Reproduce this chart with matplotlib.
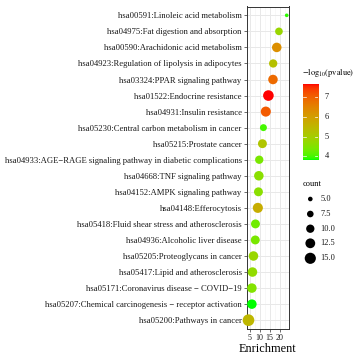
import numpy as np
import matplotlib
matplotlib.use("Agg")
import matplotlib.pyplot as plt
from matplotlib.colors import ListedColormap, Normalize

plt.rcParams['font.family'] = ['Liberation Serif', 'DejaVu Serif']
plt.rcParams['mathtext.fontset'] = 'stix'

# ---------------- data (top to bottom) ----------------
pathways = [
    "hsa00591:Linoleic acid metabolism",
    "hsa04975:Fat digestion and absorption",
    "hsa00590:Arachidonic acid metabolism",
    "hsa04923:Regulation of lipolysis in adipocytes",
    "hsa03324:PPAR signaling pathway",
    "hsa01522:Endocrine resistance",
    "hsa04931:Insulin resistance",
    "hsa05230:Central carbon metabolism in cancer",
    "hsa05215:Prostate cancer",
    "hsa04933:AGE\u2212RAGE signaling pathway in diabetic complications",
    "hsa04668:TNF signaling pathway",
    "hsa04152:AMPK signaling pathway",
    "hsa04148:Efferocytosis",
    "hsa05418:Fluid shear stress and atherosclerosis",
    "hsa04936:Alcoholic liver disease",
    "hsa05205:Proteoglycans in cancer",
    "hsa05417:Lipid and atherosclerosis",
    "hsa05171:Coronavirus disease \u2212 COVID\u221219",
    "hsa05207:Chemical carcinogenesis \u2212 receptor activation",
    "hsa05200:Pathways in cancer",
]
enrichment = [23.6, 19.7, 18.6, 16.8, 16.7, 14.4, 13.1, 11.9, 11.4, 9.8,
              9.6, 9.4, 9.1, 7.9, 7.8, 6.9, 6.4, 6.1, 6.1, 4.4]
count = [4, 9, 12, 10, 12, 14, 13, 8, 11, 10,
         12, 11, 13, 11, 11, 12, 12, 12, 12, 16]
neglog_p = [3.9, 4.8, 6.3, 5.3, 6.9, 7.67, 7.1, 4.0, 5.2, 4.4,
            4.6, 4.6, 5.7, 4.3, 4.4, 4.8, 4.7, 4.5, 3.82, 5.5]
size_breaks = [5.0, 7.5, 10.0, 12.5, 15.0]
color_breaks = [4, 5, 6, 7]


# ---------------- Lab gradient green -> red (like ggplot) ----------------
def srgb_to_lab(rgb):
    c = np.asarray(rgb, dtype=float)
    lin = np.where(c <= 0.04045, c / 12.92, ((c + 0.055) / 1.055) ** 2.4)
    m = np.array([[0.4124, 0.3576, 0.1805],
                  [0.2126, 0.7152, 0.0722],
                  [0.0193, 0.1192, 0.9505]])
    xyz = m @ lin / np.array([0.95047, 1.0, 1.08883])
    f = np.where(xyz > 0.008856, np.cbrt(xyz), 7.787 * xyz + 16 / 116)
    return np.array([116 * f[1] - 16, 500 * (f[0] - f[1]), 200 * (f[1] - f[2])])


def lab_to_srgb(lab):
    L, a, b = lab
    fy = (L + 16) / 116
    fx = fy + a / 500
    fz = fy - b / 200
    f = np.array([fx, fy, fz])
    xyz = np.where(f ** 3 > 0.008856, f ** 3, (f - 16 / 116) / 7.787)
    xyz = xyz * np.array([0.95047, 1.0, 1.08883])
    minv = np.array([[3.2406, -1.5372, -0.4986],
                     [-0.9689, 1.8758, 0.0415],
                     [0.0557, -0.2040, 1.0570]])
    lin = np.clip(minv @ xyz, 0, 1)
    c = np.where(lin <= 0.0031308, 12.92 * lin, 1.055 * lin ** (1 / 2.4) - 0.055)
    return np.clip(c, 0, 1)


lab_lo = srgb_to_lab([0, 1, 0])
lab_hi = srgb_to_lab([1, 0, 0])
cols = [lab_to_srgb(lab_lo + t * (lab_hi - lab_lo)) for t in np.linspace(0, 1, 256)]
cmap = ListedColormap(cols)
norm = Normalize(min(neglog_p), max(neglog_p))


def diam_px(c):
    return 4.6 + 4.0 * (np.sqrt(c) - np.sqrt(5))


def size_pt2(c):
    return (diam_px(np.asarray(c, dtype=float)) * 0.72) ** 2


W = 356.0
fig = plt.figure(figsize=(3.56, 3.56), dpi=100)

# ---------------- main panel ----------------
ax = fig.add_axes([246.5 / W, 1 - 329 / W, 42.5 / W, 322.5 / W])
ypos = np.arange(len(pathways))
ax.set_xlim(3.4, 24.75)
ax.set_ylim(len(pathways) - 0.45, -0.55)
for v in [7.5, 12.5, 17.5, 22.5]:
    ax.axvline(v, color='#f3f3f3', lw=0.4, zorder=0)
for v in [5, 10, 15, 20]:
    ax.axvline(v, color='#e8e8e8', lw=0.7, zorder=0)
for y in ypos:
    ax.axhline(y, color='#e8e8e8', lw=0.7, zorder=0)
ax.scatter(enrichment, ypos, s=size_pt2(count), c=neglog_p, cmap=cmap, norm=norm,
           edgecolors='none', zorder=3, clip_on=False)
ax.set_yticks(ypos)
ax.set_yticklabels(pathways, fontsize=6.2, color='#1a1a1a')
ax.set_xticks([5, 10, 15, 20])
ax.set_xticklabels(['5', '10', '15', '20'], fontsize=5.8, color='#1a1a1a')
ax.tick_params(axis='both', length=2, width=0.5, color='#333333', pad=1.5)
ax.set_xlabel('Enrichment', fontsize=8.8, labelpad=0.5)
for s in ax.spines.values():
    s.set_color('#333333')
    s.set_linewidth(0.7)

# ---------------- colour bar ----------------
cax = fig.add_axes([302.7 / W, 1 - 159.7 / W, 15.6 / W, 75.4 / W])
grad = np.linspace(norm.vmin, norm.vmax, 256).reshape(-1, 1)
cax.imshow(grad, aspect='auto', cmap=cmap, norm=norm, origin='lower',
           extent=[0, 1, norm.vmin, norm.vmax])
cax.set_xlim(0, 1)
cax.set_ylim(norm.vmin, norm.vmax)
for b in color_breaks:
    cax.plot([0, 0.2], [b, b], color='white', lw=0.5)
    cax.plot([0.8, 1], [b, b], color='white', lw=0.5)
    cax.text(1.4, b, str(b), fontsize=6.0, va='center', ha='left', color='#1a1a1a')
cax.set_xticks([])
cax.set_yticks([])
for s in cax.spines.values():
    s.set_visible(False)
fig.text(302.0 / W, 1 - 73 / W, r'$-\mathrm{log}_{10}\mathrm{(pvalue)}$', fontsize=6.0,
         va='center', ha='left')

# ---------------- size legend ----------------
fig.text(302.7 / W, 1 - 184 / W, 'count', fontsize=6.0, va='center', ha='left')
lax = fig.add_axes([0, 0, 1, 1])
lax.set_xlim(0, W)
lax.set_ylim(W, 0)
lax.axis('off')
key_y = [199, 214, 228.7, 243.3, 258.3]
lax.scatter([310.3] * len(size_breaks), key_y, s=size_pt2(size_breaks), color='black',
            edgecolors='none')
for b, yk in zip(size_breaks, key_y):
    lax.text(320.5, yk, '%.1f' % b, fontsize=6.0, va='center', ha='left', color='#1a1a1a')

fig.savefig('out.png', dpi=100)
